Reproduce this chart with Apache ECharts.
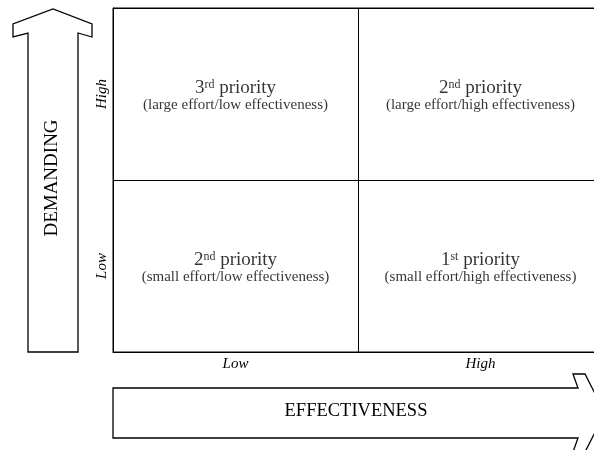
<!DOCTYPE html>
<html><head><meta charset="utf-8">
<script src="https://cdn.jsdelivr.net/npm/echarts@6/dist/echarts.min.js"></script>
<style>html,body{margin:0;padding:0;background:#fff}#c{width:594px;height:450px}</style>
</head><body><div id="c"></div>
<script>
const xCategories = ['Low', 'High'];
const yCategories = ['Low', 'High'];
const cellX = [0, 1, 0, 1];
const cellY = [1, 1, 0, 0];
const rankNum = ['3', '2', '2', '1'];
const rankSup = ['rd', 'nd', 'nd', 'st'];
const cellDesc = ['(large effort/low effectiveness)', '(large effort/high effectiveness)',
                  '(small effort/low effectiveness)', '(small effort/high effectiveness)'];
const yTitle = 'DEMANDING';
const xTitle = 'EFFECTIVENESS';

const FONT = '"Liberation Serif","Times New Roman",serif';
const chart = echarts.init(document.getElementById('c'), null, {renderer: 'canvas'});
const data = cellX.map((x, i) => ({
  value: [x, cellY[i]],
  label: {formatter: '{n|' + rankNum[i] + '}{sup|' + rankSup[i] + '}{n| priority}\n{s|' + cellDesc[i] + '}'}
}));
chart.setOption({
  animation: false,
  backgroundColor: '#fff',
  grid: {left: 113, top: 8, width: 490, height: 344, outerBoundsMode: 'none', containLabel: false,
         show: true, borderColor: '#000', borderWidth: 1, backgroundColor: 'transparent'},
  xAxis: {
    type: 'category', data: xCategories, boundaryGap: true,
    axisLine: {show: true, lineStyle: {color: '#000', width: 1}},
    axisTick: {show: false},
    splitLine: {show: true, lineStyle: {color: '#000', width: 1}},
    axisLabel: {color: '#000', fontFamily: FONT, fontStyle: 'italic', fontSize: 15, margin: 5}
  },
  yAxis: {
    type: 'category', data: yCategories, boundaryGap: true,
    axisLine: {show: true, lineStyle: {color: '#000', width: 1}},
    axisTick: {show: false},
    splitLine: {show: true, lineStyle: {color: '#000', width: 1}},
    axisLabel: {color: '#000', fontFamily: FONT, fontStyle: 'italic', fontSize: 15, rotate: 90, margin: 3}
  },
  series: [{
    type: 'scatter', symbolSize: 0, data: data,
    label: {
      show: true, position: 'inside', color: '#000', fontFamily: FONT, align: 'center',
      rich: {
        n: {fontFamily: FONT, fontSize: 19, color: '#000', lineHeight: 22},
        sup: {fontFamily: FONT, fontSize: 12, color: '#000', lineHeight: 10, verticalAlign: 'top', padding: [2, 0, 0, 0]},
        s: {fontFamily: FONT, fontSize: 15, color: '#000', lineHeight: 12}
      }
    }
  }],
  graphic: [
    {type: 'polygon', shape: {points: [[28,352],[78,352],[78,33],[92,37],[92,24],[53,9],[13,24],[13,37],[28,33]]},
     style: {fill: '#fff', stroke: '#000', lineWidth: 1.3}},
    {type: 'text', x: 52, y: 178, rotation: Math.PI / 2,
     style: {text: yTitle, font: '19px ' + FONT, fill: '#000', textAlign: 'center', textVerticalAlign: 'middle'}},
    {type: 'polygon', shape: {points: [[113,388],[578,388],[573,374],[585,374],[605,413],[585,452],[573,452],[578,438],[113,438]]},
     style: {fill: '#fff', stroke: '#000', lineWidth: 1.3}},
    {type: 'text', x: 356, y: 411,
     style: {text: xTitle, font: '18.5px ' + FONT, fill: '#000', textAlign: 'center', textVerticalAlign: 'middle'}}
  ]
});
</script></body></html>
